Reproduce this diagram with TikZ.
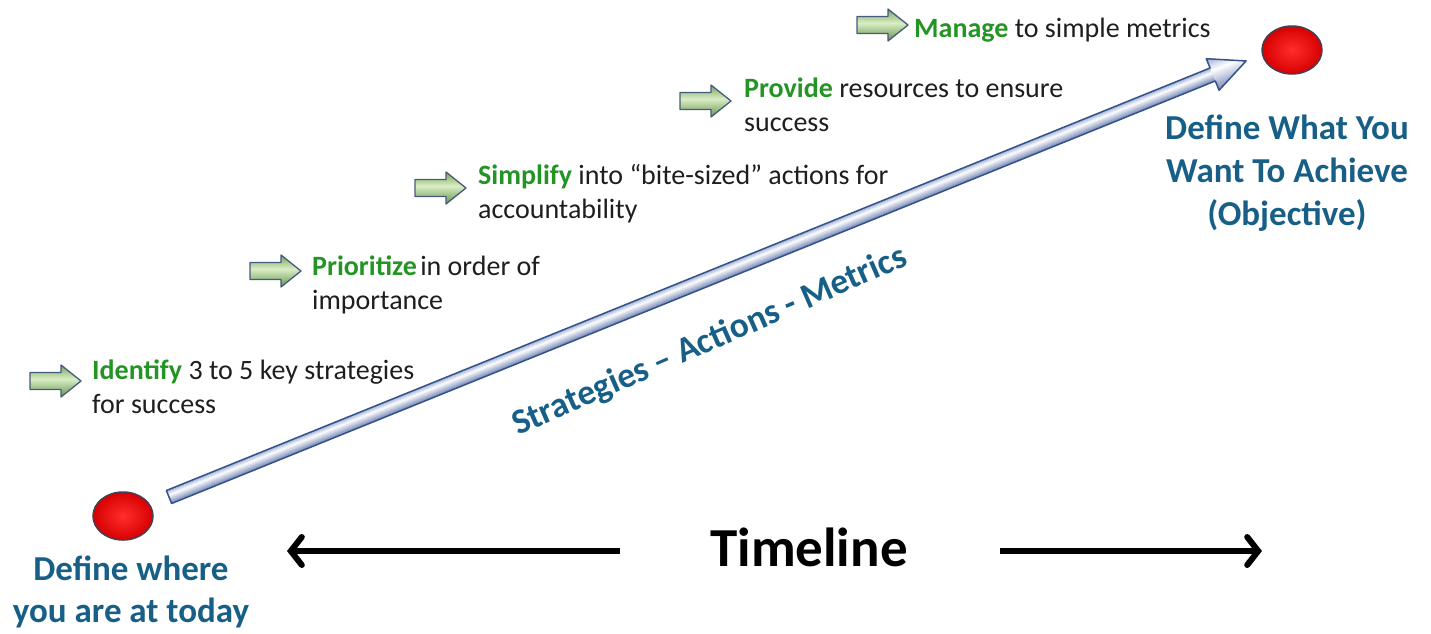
\documentclass[tikz,border=0pt]{standalone}
\usepackage{fontspec}
\setmainfont{Carlito}
\usetikzlibrary{arrows.meta,shapes.geometric}

\definecolor{titleblue}{RGB}{23,95,135}
\definecolor{keygreen}{RGB}{36,148,36}
\definecolor{bodytext}{RGB}{30,30,30}
\definecolor{tubeedge}{RGB}{52,82,140}
\definecolor{tubetop}{RGB}{150,168,208}
\definecolor{tubebot}{RGB}{118,136,182}
\definecolor{balledge}{RGB}{70,62,82}
\definecolor{garrowedge}{RGB}{70,90,125}
\definecolor{garrowtop}{RGB}{118,162,84}
\definecolor{garrowlight}{RGB}{218,238,198}
\definecolor{garrowbot}{RGB}{105,150,78}

% banded fill between y0 and y1 from x0 to x1: top -> mid (at fraction #9) -> bottom
\newcommand{\gradfill}[9]{%
  \foreach \k in {1,...,#5} {
    \pgfmathsetmacro{\gt}{(\k-0.5)/#5}
    \pgfmathtruncatemacro{\pTop}{\gt<#9 ? 100*\gt/#9 : 100}
    \pgfmathtruncatemacro{\pBot}{\gt<#9 ? 100 : 100*(1-\gt)/(1-#9)}
    \colorlet{gradA}{#7!\pTop!#6}
    \colorlet{gradB}{gradA!\pBot!#8}
    \fill[gradB] (#1,{#3+(#4-#3)*(\k-1)/#5}) rectangle (#2,{#3+(#4-#3)*(\k+0.2)/#5});
  }}

\tikzset{
  steptext/.style={font=\fontsize{28}{34}\selectfont, text=bodytext, inner sep=0pt, anchor=base west},
  titletext/.style={font=\fontsize{35}{44}\selectfont\bfseries, text=titleblue, inner sep=0pt, anchor=base},
  ball/.style={ellipse, minimum width=60pt, minimum height=48pt, inner sep=0pt,
    draw=balledge, line width=1.5pt, inner color={rgb,255:red,255;green,45;blue,45}, outer color={rgb,255:red,215;green,0;blue,0}},
  tlarrow/.style={line width=6pt, -{Straight Barb[length=11pt,width=28pt,line cap=round]}},
  garrow/.pic={
    \begin{scope}
      \clip (0,-8.5) -- (31,-8.5) -- (31,-16) -- (51,0) -- (31,16) -- (31,8.5) -- (0,8.5) -- cycle;
      \gradfill{0}{52}{-16}{16}{32}{garrowtop}{garrowlight}{garrowbot}{0.45}
    \end{scope}
    \draw[garrowedge, line width=1.3pt, line join=round]
      (0,-8.5) -- (31,-8.5) -- (31,-16) -- (51,0) -- (31,16) -- (31,8.5) -- (0,8.5) -- cycle;
  }
}

\newcommand{\keyword}[1]{\textcolor{keygreen}{\bfseries #1}}

\begin{document}
\begin{tikzpicture}[x=1pt,y=-1pt]
\useasboundingbox (0,0) rectangle (1431,633);

% rising tube arrow from today to the objective
\begin{scope}[shift={(169,497)},rotate=22.04]
  \begin{scope}
    \clip (0,-7) rectangle (1127,7);
    \gradfill{0}{1127}{-7}{7}{14}{tubetop}{white}{tubebot}{0.38}
  \end{scope}
  \begin{scope}
    \clip (1126,-17) -- (1162,0) -- (1126,17) -- cycle;
    \gradfill{1126}{1162}{-17}{17}{34}{tubetop}{white}{tubebot}{0.4}
  \end{scope}
  \draw[tubeedge, line width=1.5pt, line join=round]
    (0,-7) -- (1126,-7) -- (1126,-17) -- (1162,0) -- (1126,17) -- (1126,7) -- (0,7) -- cycle;
\end{scope}

% start and end points
\node[ball] (today) at (123,516) {};
\node[ball] (goal) at (1292,50) {};

\node[titletext] (today1) at (131,580) {Define where};
\node[titletext] (today2) at (131,622) {you are at today};

\node[titletext] (goal1) at (1287,139) {Define What You};
\node[titletext] (goal2) at (1287,182) {Want To Achieve};
\node[titletext] (goal3) at (1287,225) {(Objective)};

% steps along the way
\pic at (30,381) {garrow};
\node[steptext] (s1a) at (92,379) {\keyword{Identify} 3 to 5 key strategies};
\node[steptext] (s1b) at (92,413) {for success};

\pic at (250,271) {garrow};
\node[steptext] (s2a) at (312,275) {\keyword{Prioritize}\hspace{0.12em}in order of};
\node[steptext] (s2b) at (312,309) {importance};

\pic at (415,188) {garrow};
\node[steptext] (s3a) at (478,184) {\keyword{Simplify} into “bite-sized” actions for};
\node[steptext] (s3b) at (478,218) {accountability};

\pic at (680,101) {garrow};
\node[steptext] (s4a) at (744,97) {\keyword{Provide} resources to ensure};
\node[steptext] (s4b) at (744,131) {success};

\pic at (857,25) {garrow};
\node[steptext] (s5a) at (914,37) {\keyword{Manage} to simple metrics};

% label along the tube
\node[font=\fontsize{35.5}{40}\selectfont\bfseries, text=titleblue, inner sep=0pt,
  anchor=base west, rotate=23.7] (sam) at (518,436) {Strategies – Actions - Metrics};

% timeline
\node[font=\fontsize{55}{60}\selectfont\bfseries, text=black, inner sep=0pt, anchor=base] (tl) at (809,566) {Timeline};
\coordinate (tlLstart) at (620,551);
\coordinate (tlLend) at (287,551);
\coordinate (tlRstart) at (1000,551);
\coordinate (tlRend) at (1262,551);
\draw[tlarrow] (tlLstart) -- (tlLend);
\draw[tlarrow] (tlRstart) -- (tlRend);
\end{tikzpicture}
\end{document}
